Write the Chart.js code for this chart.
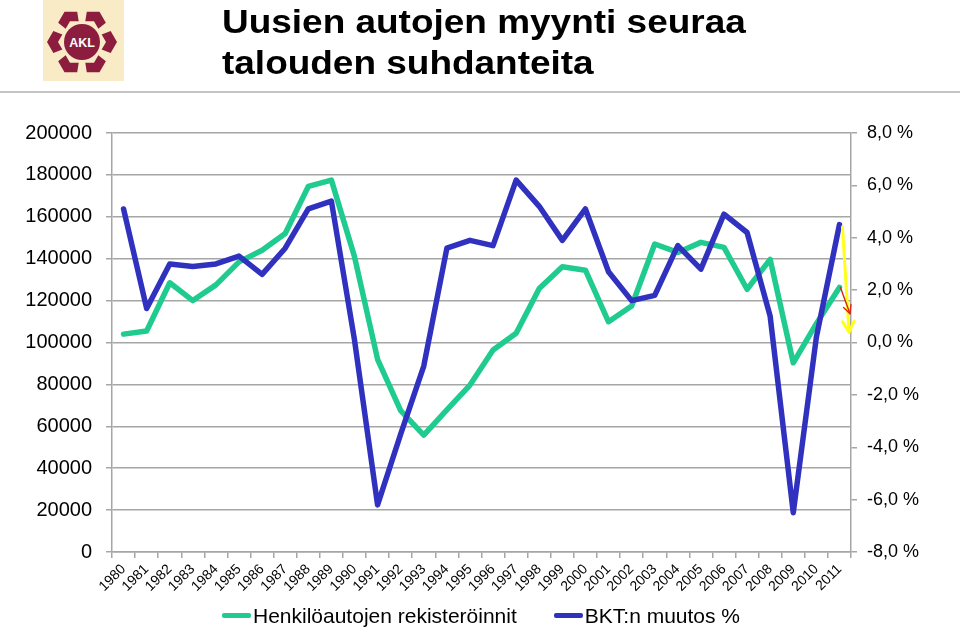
<!DOCTYPE html>
<html><head><meta charset="utf-8">
<script src="https://cdn.jsdelivr.net/npm/chart.js@4/dist/chart.umd.min.js"></script>
<style>
html,body{margin:0;padding:0;background:#fff;width:960px;height:631px;overflow:hidden;font-family:"Liberation Sans",Arial,sans-serif;}
#wrap{position:relative;width:960px;height:631px;}
#c{position:absolute;left:0;top:0;}
#logo{position:absolute;left:43px;top:0;width:81px;height:81px;}
#title{position:absolute;left:222px;top:1px;font-weight:bold;font-size:33px;line-height:41px;color:#000;white-space:nowrap;transform:scaleX(1.12);transform-origin:left top;}
#rule{position:absolute;left:0;top:91px;width:960px;height:2px;background:#c4c4c4;}
#legend{position:absolute;left:0;top:602px;width:962px;height:27px;display:flex;justify-content:center;align-items:center;font-size:21px;color:#000;white-space:nowrap;}
#legend .item{display:flex;align-items:center;}
#legend .item + .item{margin-left:37px;}
#legend .swatch{display:inline-block;width:29px;height:5px;margin-right:2px;border-radius:2px;}
</style></head>
<body><div id="wrap">
<canvas id="c" width="960" height="631"></canvas>
<svg id="logo" viewBox="0 0 81 81" xmlns="http://www.w3.org/2000/svg"></svg>
<div id="title">Uusien autojen myynti seuraa<br>talouden suhdanteita</div>
<div id="rule"></div>
<div id="legend"></div>
</div>
<script>
// ---- data ----
const years = ["1980","1981","1982","1983","1984","1985","1986","1987","1988","1989","1990","1991","1992","1993","1994","1995","1996","1997","1998","1999","2000","2001","2002","2003","2004","2005","2006","2007","2008","2009","2010","2011"];
const registrations = [104000,105500,128500,120000,127500,138500,144000,152000,174500,177500,141000,92000,67500,55800,67800,79700,96400,104400,125800,136200,134500,109900,117400,147000,143000,147800,145400,125400,139700,90300,109000,126300];
const gdpChange = [5.1,1.3,3.0,2.9,3.0,3.3,2.6,3.6,5.1,5.4,0.1,-6.2,-3.5,-0.9,3.6,3.9,3.7,6.2,5.2,3.9,5.1,2.7,1.6,1.8,3.7,2.8,4.9,4.2,1.0,-6.5,0.2,4.5];
const seriesNames = ["Henkilöautojen rekisteröinnit","BKT:n muutos %"];
const leftAxisRange = [0,200000,20000];
const rightAxisRange = [-8,8,2];
const arrowTargetGdp = 0.4;      // yellow arrow points to this % value
const arrowTargetReg = 1.1;      // red arrow points to this % value

// ---- logo ----
(function(){
  const svg=document.getElementById('logo');
  const cx=39, cy=42, Ro=35, Ri=24, half=21, mar='#8c1d3f';
  const P=(r,a)=>[(cx+r*Math.cos(a*Math.PI/180)).toFixed(2),(cy-r*Math.sin(a*Math.PI/180)).toFixed(2)].join(',');
  let s='<rect x="0" y="0" width="81" height="81" fill="#f8ebc6"/>';
  const k=Math.cos(Math.PI/6)/Math.cos((30-half)*Math.PI/180);
  for(let i=0;i<6;i++){
    const t=i*60;
    s+='<polygon fill="'+mar+'" points="'+[P(Ro*k,t-half),P(Ro,t),P(Ro*k,t+half),P(Ri*k,t+half),P(Ri,t),P(Ri*k,t-half)].join(' ')+'"/>';
  }
  s+='<circle cx="'+cx+'" cy="'+cy+'" r="18" fill="'+mar+'"/>';
  s+='<text x="'+cx+'" y="'+(cy+4.5)+'" text-anchor="middle" font-family="Liberation Sans, Arial" font-weight="bold" font-size="12.5" fill="#fff">AKL</text>';
  svg.innerHTML=s;
})();

const GRID='#a6a6a6';
const FONT='"Liberation Sans", Arial, sans-serif';
const arrowPlugin={
  id:'arrows',
  afterDatasetsDraw(chart){
    const ctx=chart.ctx, xs=chart.scales.x, yl=chart.scales.y, yr=chart.scales.y1;
    const n=years.length-1, px=xs.getPixelForValue(n), right=chart.chartArea.right;
    function arrow(x1,y1,x2,y2,color,lw,head,spread){
      const a=Math.atan2(y2-y1,x2-x1);
      ctx.save();ctx.strokeStyle=color;ctx.lineWidth=lw;ctx.lineCap='round';ctx.lineJoin='round';
      ctx.beginPath();ctx.moveTo(x1,y1);ctx.lineTo(x2,y2);ctx.stroke();
      ctx.beginPath();
      ctx.moveTo(x2-head*Math.cos(a-spread),y2-head*Math.sin(a-spread));
      ctx.lineTo(x2,y2);
      ctx.lineTo(x2-head*Math.cos(a+spread),y2-head*Math.sin(a+spread));
      ctx.stroke();ctx.restore();
    }
    arrow(px+3,yr.getPixelForValue(gdpChange[n])+2,right-2,yr.getPixelForValue(arrowTargetGdp),'#ffff1a',3,12,0.5);
    arrow(px+1,yl.getPixelForValue(registrations[n]),right-1,yr.getPixelForValue(arrowTargetReg),'#d8261a',1.4,9,0.45);
  }
};

const chart=new Chart(document.getElementById('c'),{
  type:'line',
  data:{labels:years,datasets:[
    {label:seriesNames[0],data:registrations,yAxisID:'y',borderColor:'#1fcb8e',backgroundColor:'#1fcb8e',borderWidth:5.5,pointRadius:0,tension:0,borderJoinStyle:'round',borderCapStyle:'round',order:1},
    {label:seriesNames[1],data:gdpChange,yAxisID:'y1',borderColor:'#3131c0',backgroundColor:'#3131c0',borderWidth:5.5,pointRadius:0,tension:0,borderJoinStyle:'round',borderCapStyle:'round',order:0}
  ]},
  options:{
    responsive:false,animation:false,
    layout:{padding:{top:133,left:0,right:0,bottom:32}},
    plugins:{tooltip:{enabled:false},legend:{display:false}},
    scales:{
      x:{type:'category',offset:true,
        grid:{offset:true,drawOnChartArea:false,drawTicks:true,tickLength:6,color:GRID,lineWidth:1.5},
        border:{display:true,color:GRID,width:1.5},
        ticks:{autoSkip:false,maxRotation:45,minRotation:45,padding:3,color:'#000',font:{family:FONT,size:14}},
        afterFit(s){s.height=47;}},
      y:{position:'left',min:leftAxisRange[0],max:leftAxisRange[1],
        ticks:{stepSize:leftAxisRange[2],padding:14,color:'#000',font:{family:FONT,size:20},callback:v=>String(v)},
        grid:{color:GRID,lineWidth:1.5,tickLength:6},
        border:{display:true,color:GRID,width:1.5},
        afterFit(s){s.width=112;}},
      y1:{position:'right',min:rightAxisRange[0],max:rightAxisRange[1],
        ticks:{stepSize:rightAxisRange[2],padding:10,color:'#000',font:{family:FONT,size:18},callback:v=>v.toFixed(1).replace('.',',')+' %'},
        grid:{drawOnChartArea:false,color:GRID,lineWidth:1.5,tickLength:6},
        border:{display:true,color:GRID,width:1.5},
        afterFit(s){s.width=109;}}
    }
  },
  plugins:[arrowPlugin]
});

// HTML legend built from the chart's datasets
(function(){
  const lg=document.getElementById('legend');
  chart.data.datasets.forEach(ds=>{
    const it=document.createElement('span');it.className='item';
    const sw=document.createElement('span');sw.className='swatch';sw.style.background=ds.borderColor;
    const tx=document.createElement('span');tx.textContent=ds.label;
    it.appendChild(sw);it.appendChild(tx);lg.appendChild(it);
  });
})();
</script>
</body></html>
